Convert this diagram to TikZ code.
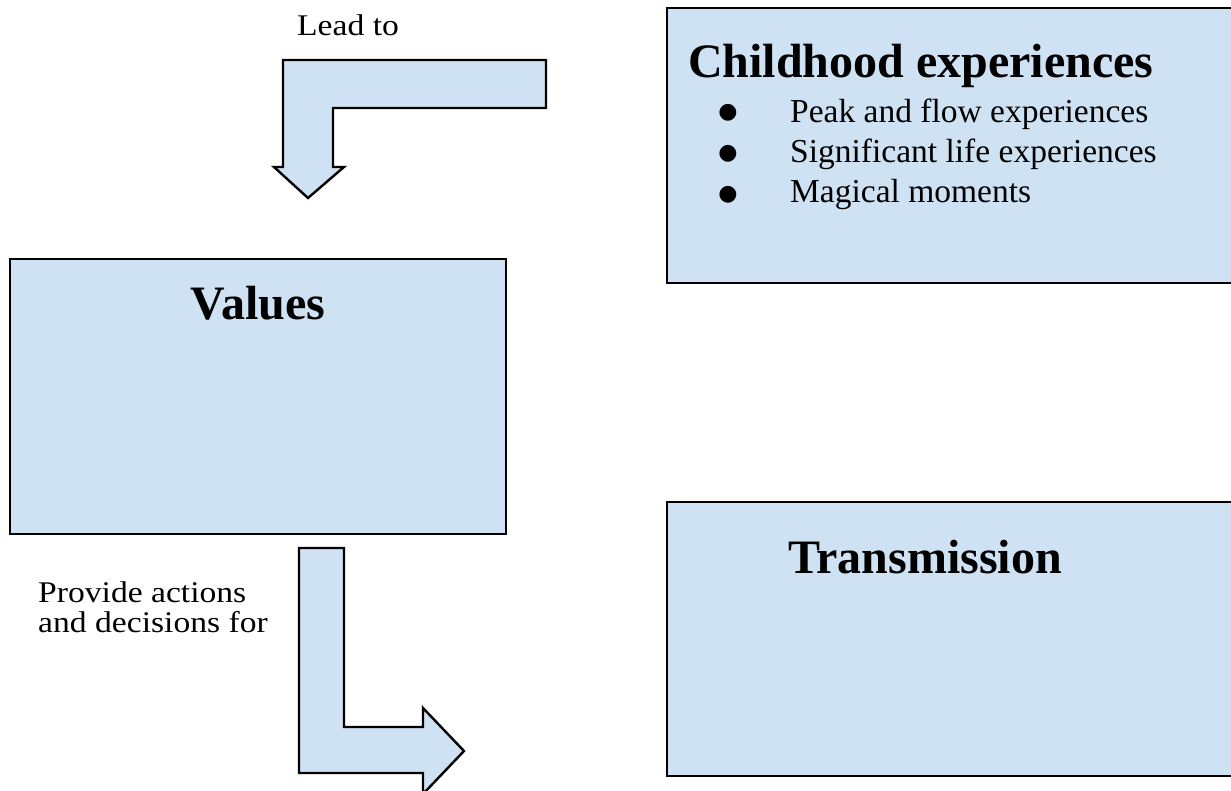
\documentclass[tikz,border=0pt]{standalone}
\usepackage{fontspec}
\setmainfont{Liberation Serif}
\newfontfamily\bulletfont{DejaVu Sans}
\newfontfamily\notefont[FakeStretch=1.12]{Liberation Serif}
\definecolor{boxblue}{HTML}{CFE2F3}

\begin{document}
\begin{tikzpicture}[x=1pt,y=-1pt,
  panel/.style={draw=black, line width=2.4pt, fill=boxblue},
  blockarrow/.style={draw=black, line width=2.4pt, fill=boxblue, line join=miter},
  heading/.style={font=\fontsize{48}{54}\selectfont\bfseries, anchor=base, inner sep=0pt},
  entry/.style={font=\fontsize{33.5}{40}\selectfont, anchor=base west, inner sep=0pt},
  dot/.style={font=\bulletfont\fontsize{22}{26}\selectfont, anchor=center, inner sep=0pt},
  note/.style={font=\notefont\fontsize{30}{30}\selectfont, anchor=base west, inner sep=0pt, align=left},
]
\useasboundingbox (0,0) rectangle (1231,791);
\clip (0,0) rectangle (1231,791);

% boxes
\draw[panel] (10,259) rectangle (506,534);
\draw[panel] (667,8) rectangle (1250,283);
\draw[panel] (667,502) rectangle (1250,776);

% box titles
\node[heading] (values) at (258,320) {Values};
\node[heading] (trans) at (925,573) {Transmission};
\node[heading, anchor=base west] (child) at (688,78) {Childhood experiences};

% bullet list
\node[dot] (b1) at (728,113) {●};
\node[dot] (b2) at (728,154) {●};
\node[dot] (b3) at (728,195) {●};
\node[entry] (i1) at (790,123) {Peak and flow experiences};
\node[entry] (i2) at (790,163) {Significant life experiences};
\node[entry] (i3) at (790,203) {Magical moments};

% bent arrow from the top right down to the values box
\draw[blockarrow] (283,60) -- (546,60) -- (546,108) -- (333,108) -- (333,167)
  -- (344,167) -- (308,198) -- (274,167) -- (283,167) -- cycle;
\node[note] (lead) at (297,36) {Lead to};

% bent arrow from the values box towards transmission
\draw[blockarrow] (299,548) -- (344,548) -- (344,727) -- (423,727) -- (423,708)
  -- (464,751) -- (423,794) -- (423,773) -- (299,773) -- cycle;
\node[note] (provide) at (38,632) {Provide actions\\and decisions for};
\end{tikzpicture}
\end{document}
